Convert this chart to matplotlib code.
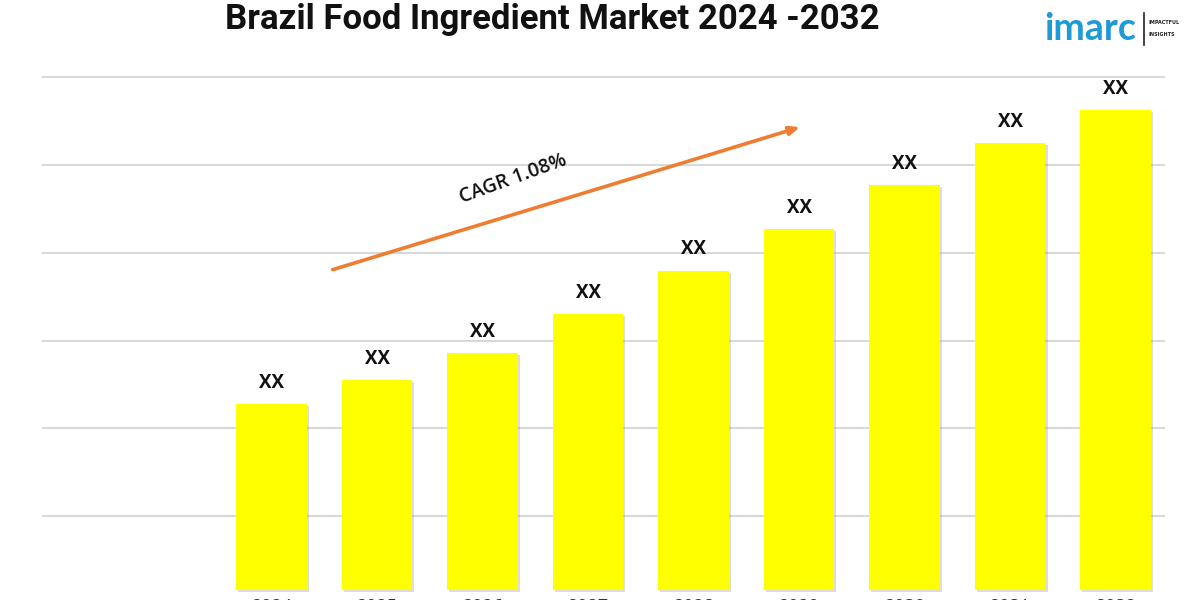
import matplotlib
matplotlib.use("Agg")
import matplotlib.pyplot as plt
import matplotlib.patheffects as pe

years = ["2024", "2025", "2026", "2027", "2028", "2029", "2030", "2031", "2032"]
values = [2.11, 2.39, 2.69, 3.14, 3.63, 4.10, 4.60, 5.08, 5.45]
bar_labels = ["XX"] * len(years)
grid_values = [0.84, 1.84, 2.83, 3.83, 4.83, 5.83]
title = "Brazil Food Ingredient Market 2024 -2032"
cagr_text = "CAGR 1.08%"

fig = plt.figure(figsize=(12, 6), dpi=100)
ax = fig.add_axes([0.035, 0.0133, 0.936, 0.8834])

x = list(range(len(years)))
bars = ax.bar(x, values, width=0.67, color="#FFFF00", zorder=3)
for b in bars:
    b.set_path_effects([pe.SimplePatchShadow(offset=(1.5, -1.5), shadow_rgbFace="#909090", alpha=0.3), pe.Normal()])

for xi, v, lab in zip(x, values, bar_labels):
    ax.annotate(lab, (xi, v), xytext=(0, 8), textcoords="offset points",
                ha="center", va="bottom", fontsize=13.5, fontweight="bold",
                family="Open Sans", color="#111111", zorder=4)

ax.set_xlim(-2.175, 8.47)
ax.set_ylim(-0.023, 6.0)
ax.set_yticks(grid_values)
ax.set_yticklabels([])
ax.tick_params(axis="y", length=0)
ax.set_xticks(x)
ax.set_xticklabels(years, fontsize=13, family="Open Sans", color="#333333")
ax.tick_params(axis="x", length=0, pad=4)
ax.grid(axis="y", color="#d9d9d9", linewidth=1.5, zorder=0)
for s in ax.spines.values():
    s.set_visible(False)

# CAGR arrow
ax.annotate("", xy=(5.01, 5.26), xytext=(0.58, 3.64),
            arrowprops=dict(arrowstyle="-|>,head_length=0.6,head_width=0.25",
                            color="#ED7D31", lw=2.6, shrinkA=0, shrinkB=0), zorder=5)
ax.text(2.29, 4.67, cagr_text, rotation=20, ha="center", va="center",
        fontsize=14, family="Open Sans", fontweight="semibold", color="#111111")

fig.text(0.46, 0.968, title, ha="center", va="center", fontsize=25,
         family="Roboto", fontweight="bold", color="#111111")

# logo
fig.text(0.870, 0.952, "imarc", ha="left", va="center", fontsize=27,
         family="Lato", fontweight="bold", color="#1e9ad6")
fig.add_artist(plt.Line2D([0.9535, 0.9535], [0.925, 0.978], color="#222222", lw=1.2))
fig.text(0.957, 0.962, "IMPACTFUL", ha="left", va="center", fontsize=3.5, color="#222222", fontweight="bold")
fig.text(0.957, 0.942, "INSIGHTS", ha="left", va="center", fontsize=3.5, color="#222222", fontweight="bold")

fig.savefig("out.png", dpi=100)
